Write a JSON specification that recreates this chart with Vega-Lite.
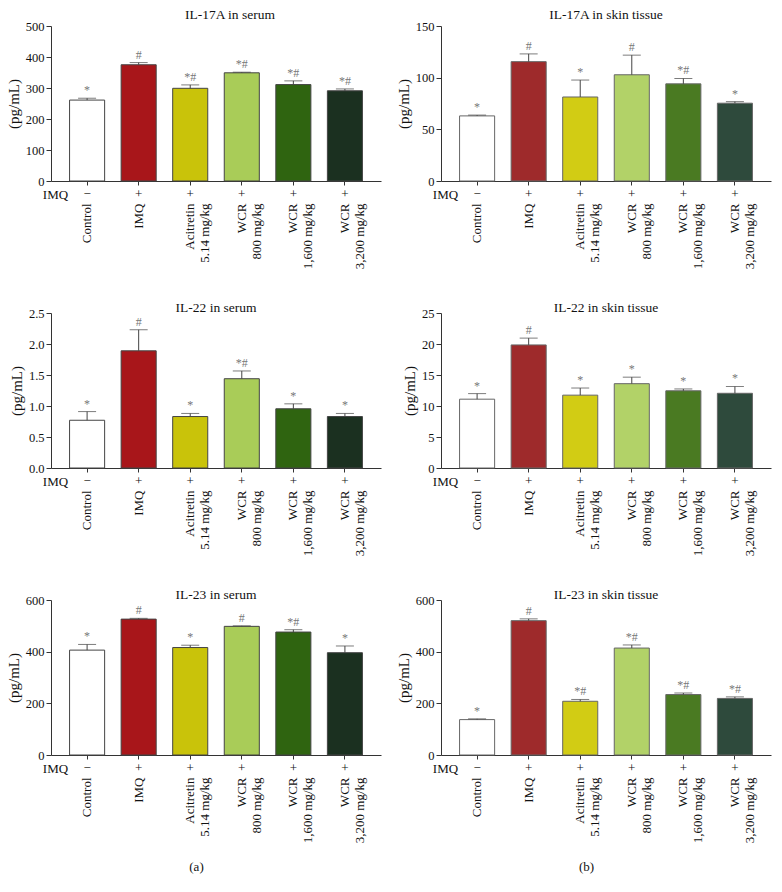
{
  "$schema": "https://vega.github.io/schema/vega-lite/v6.json",
  "padding": {"left": 6, "top": 7, "right": 4, "bottom": 4},
  "background": "white",
  "config": {
    "font": "Liberation Serif",
    "view": {"stroke": null},
    "title": {"font": "Liberation Serif", "fontSize": 13.5, "fontWeight": "normal", "color": "#111", "offset": -7},
    "axis": {"labelFont": "Liberation Serif", "labelFontSize": 13, "labelColor": "#111", "titleFont": "Liberation Serif", "titleFontSize": 15, "titleFontWeight": "normal", "titleColor": "#111", "domainColor": "#333", "tickColor": "#333", "grid": false},
    "axisY": {"tickSize": 5, "labelPadding": 2, "titlePadding": 4, "labelFontSize": 12.5},
    "text": {"font": "Liberation Serif"}
  },
  "datasets": {
    "d": [
      {"panel": "IL-17A in serum", "group": "Control", "value": 261, "hi": 267, "sig": "*"},
      {"panel": "IL-17A in serum", "group": "IMQ", "value": 375, "hi": 382, "sig": "#"},
      {"panel": "IL-17A in serum", "group": "Acitretin|5.14 mg/kg", "value": 299, "hi": 310, "sig": "*#"},
      {"panel": "IL-17A in serum", "group": "WCR|800 mg/kg", "value": 349, "hi": 351, "sig": "*#"},
      {"panel": "IL-17A in serum", "group": "WCR|1,600 mg/kg", "value": 311, "hi": 323, "sig": "*#"},
      {"panel": "IL-17A in serum", "group": "WCR|3,200 mg/kg", "value": 291, "hi": 297, "sig": "*#"},
      {"panel": "IL-17A in skin tissue", "group": "Control", "value": 63, "hi": 63.8, "sig": "*"},
      {"panel": "IL-17A in skin tissue", "group": "IMQ", "value": 115.5, "hi": 123, "sig": "#"},
      {"panel": "IL-17A in skin tissue", "group": "Acitretin|5.14 mg/kg", "value": 81.3, "hi": 97.7, "sig": "*"},
      {"panel": "IL-17A in skin tissue", "group": "WCR|800 mg/kg", "value": 102.8, "hi": 121.8, "sig": "#"},
      {"panel": "IL-17A in skin tissue", "group": "WCR|1,600 mg/kg", "value": 94, "hi": 99.2, "sig": "*#"},
      {"panel": "IL-17A in skin tissue", "group": "WCR|3,200 mg/kg", "value": 75.3, "hi": 76.8, "sig": "*"},
      {"panel": "IL-22 in serum", "group": "Control", "value": 0.77, "hi": 0.91, "sig": "*"},
      {"panel": "IL-22 in serum", "group": "IMQ", "value": 1.89, "hi": 2.23, "sig": "#"},
      {"panel": "IL-22 in serum", "group": "Acitretin|5.14 mg/kg", "value": 0.83, "hi": 0.88, "sig": "*"},
      {"panel": "IL-22 in serum", "group": "WCR|800 mg/kg", "value": 1.44, "hi": 1.565, "sig": "*#"},
      {"panel": "IL-22 in serum", "group": "WCR|1,600 mg/kg", "value": 0.955, "hi": 1.035, "sig": "*"},
      {"panel": "IL-22 in serum", "group": "WCR|3,200 mg/kg", "value": 0.83, "hi": 0.88, "sig": "*"},
      {"panel": "IL-22 in skin tissue", "group": "Control", "value": 11.1, "hi": 12.0, "sig": "*"},
      {"panel": "IL-22 in skin tissue", "group": "IMQ", "value": 19.85, "hi": 20.95, "sig": "#"},
      {"panel": "IL-22 in skin tissue", "group": "Acitretin|5.14 mg/kg", "value": 11.75, "hi": 12.9, "sig": "*"},
      {"panel": "IL-22 in skin tissue", "group": "WCR|800 mg/kg", "value": 13.6, "hi": 14.65, "sig": "*"},
      {"panel": "IL-22 in skin tissue", "group": "WCR|1,600 mg/kg", "value": 12.45, "hi": 12.75, "sig": "*"},
      {"panel": "IL-22 in skin tissue", "group": "WCR|3,200 mg/kg", "value": 12.05, "hi": 13.15, "sig": "*"},
      {"panel": "IL-23 in serum", "group": "Control", "value": 406, "hi": 428, "sig": "*"},
      {"panel": "IL-23 in serum", "group": "IMQ", "value": 526, "hi": 529, "sig": "#"},
      {"panel": "IL-23 in serum", "group": "Acitretin|5.14 mg/kg", "value": 416, "hi": 425, "sig": "*"},
      {"panel": "IL-23 in serum", "group": "WCR|800 mg/kg", "value": 498, "hi": 500, "sig": "#"},
      {"panel": "IL-23 in serum", "group": "WCR|1,600 mg/kg", "value": 476, "hi": 485, "sig": "*#"},
      {"panel": "IL-23 in serum", "group": "WCR|3,200 mg/kg", "value": 396, "hi": 422, "sig": "*"},
      {"panel": "IL-23 in skin tissue", "group": "Control", "value": 137, "hi": 140, "sig": "*"},
      {"panel": "IL-23 in skin tissue", "group": "IMQ", "value": 520, "hi": 527, "sig": "#"},
      {"panel": "IL-23 in skin tissue", "group": "Acitretin|5.14 mg/kg", "value": 208, "hi": 215, "sig": "*#"},
      {"panel": "IL-23 in skin tissue", "group": "WCR|800 mg/kg", "value": 414, "hi": 426, "sig": "*#"},
      {"panel": "IL-23 in skin tissue", "group": "WCR|1,600 mg/kg", "value": 234, "hi": 240, "sig": "*#"},
      {"panel": "IL-23 in skin tissue", "group": "WCR|3,200 mg/kg", "value": 219, "hi": 225, "sig": "*#"}
    ]
  },
  "data": {"name": "d"},
  "columns": 2,
  "spacing": {"column": 15, "row": 31},
  "resolve": {"scale": {"x": "independent", "y": "independent", "color": "independent"}},
  "concat": [
    {
      "width": 330, "height": 155,
      "title": {"text": "IL-17A in serum", "dx": 14, "offset": -1},
      "transform": [{"filter": "datum.panel == 'IL-17A in serum'"}],
      "layer": [
        {"mark": {"type": "bar", "stroke": "#444", "strokeWidth": 1},
         "encoding": {
           "x": {"field": "group", "type": "nominal", "sort": ["Control","IMQ","Acitretin|5.14 mg/kg","WCR|800 mg/kg","WCR|1,600 mg/kg","WCR|3,200 mg/kg"], "scale": {"paddingInner": 0.32, "paddingOuter": 0.36}, "axis": {"orient": "bottom", "title": "IMQ", "labelExpr": "datum.label == 'Control' ? '−' : '+'", "labelAngle": 0, "labelAlign": "center", "labelBaseline": "top", "tickSize": 4, "labelPadding": 2, "labelOverlap": false, "titleX": 4, "titleY": 13, "titleAlign": "center", "titleBaseline": "middle", "titleFontSize": 13}},
           "y": {"field": "value", "type": "quantitative", "scale": {"domain": [0, 500]}, "axis": {"title": "(pg/mL)", "values": [0,100,200,300,400,500]}},
           "color": {"field": "group", "type": "nominal", "scale": {"domain": ["Control","IMQ","Acitretin|5.14 mg/kg","WCR|800 mg/kg","WCR|1,600 mg/kg","WCR|3,200 mg/kg"], "range": ["#ffffff","#a8161a","#c9c30a","#a9cc58","#2f6410","#1b3020"]}, "legend": null}
         }},
        {"mark": {"type": "rule", "color": "#444", "strokeWidth": 1},
         "encoding": {
           "x": {"field": "group", "type": "nominal", "sort": ["Control","IMQ","Acitretin|5.14 mg/kg","WCR|800 mg/kg","WCR|1,600 mg/kg","WCR|3,200 mg/kg"], "scale": {"paddingInner": 0.32, "paddingOuter": 0.36}, "axis": null},
           "y": {"field": "value", "type": "quantitative", "scale": {"domain": [0, 500]}, "axis": {"title": "(pg/mL)", "values": [0,100,200,300,400,500]}},
           "y2": {"field": "hi"}
         }},
        {"mark": {"type": "tick", "size": 18, "thickness": 1, "color": "#444"},
         "encoding": {
           "x": {"field": "group", "type": "nominal", "sort": ["Control","IMQ","Acitretin|5.14 mg/kg","WCR|800 mg/kg","WCR|1,600 mg/kg","WCR|3,200 mg/kg"], "scale": {"paddingInner": 0.32, "paddingOuter": 0.36}, "axis": null},
           "y": {"field": "hi", "type": "quantitative", "scale": {"domain": [0, 500]}, "axis": {"title": "(pg/mL)", "values": [0,100,200,300,400,500]}}
         }},
        {"mark": {"type": "text", "baseline": "bottom", "dy": -1, "color": "#777", "fontSize": 12},
         "encoding": {
           "x": {"field": "group", "type": "nominal", "sort": ["Control","IMQ","Acitretin|5.14 mg/kg","WCR|800 mg/kg","WCR|1,600 mg/kg","WCR|3,200 mg/kg"], "scale": {"paddingInner": 0.32, "paddingOuter": 0.36}, "axis": {"orient": "bottom", "title": null, "domain": false, "ticks": false, "labelAngle": 270, "labelAlign": "right", "labelBaseline": "middle", "labelPadding": 22, "labelOverlap": false, "labelLineHeight": 15, "labelExpr": "split(replace(datum.label, 'WCR|', 'WCR       |'), '|')"}},
           "y": {"field": "hi", "type": "quantitative", "scale": {"domain": [0, 500]}, "axis": {"title": "(pg/mL)", "values": [0,100,200,300,400,500]}},
           "text": {"field": "sig"}
         }}
      ],
      "resolve": {"axis": {"x": "independent"}}
    },
    {
      "width": 330, "height": 155,
      "title": {"text": "IL-17A in skin tissue", "offset": -1},
      "transform": [{"filter": "datum.panel == 'IL-17A in skin tissue'"}],
      "layer": [
        {"mark": {"type": "bar", "stroke": "#666", "strokeWidth": 1},
         "encoding": {
           "x": {"field": "group", "type": "nominal", "sort": ["Control","IMQ","Acitretin|5.14 mg/kg","WCR|800 mg/kg","WCR|1,600 mg/kg","WCR|3,200 mg/kg"], "scale": {"paddingInner": 0.32, "paddingOuter": 0.36}, "axis": {"orient": "bottom", "title": "IMQ", "labelExpr": "datum.label == 'Control' ? '−' : '+'", "labelAngle": 0, "labelAlign": "center", "labelBaseline": "top", "tickSize": 4, "labelPadding": 2, "labelOverlap": false, "titleX": 4, "titleY": 13, "titleAlign": "center", "titleBaseline": "middle", "titleFontSize": 13}},
           "y": {"field": "value", "type": "quantitative", "scale": {"domain": [0, 150]}, "axis": {"title": "(pg/mL)", "values": [0,50,100,150]}},
           "color": {"field": "group", "type": "nominal", "scale": {"domain": ["Control","IMQ","Acitretin|5.14 mg/kg","WCR|800 mg/kg","WCR|1,600 mg/kg","WCR|3,200 mg/kg"], "range": ["#ffffff","#9e2a2b","#d2cc14","#b2d268","#4a7a22","#2e4a3c"]}, "legend": null}
         }},
        {"mark": {"type": "rule", "color": "#444", "strokeWidth": 1},
         "encoding": {
           "x": {"field": "group", "type": "nominal", "sort": ["Control","IMQ","Acitretin|5.14 mg/kg","WCR|800 mg/kg","WCR|1,600 mg/kg","WCR|3,200 mg/kg"], "scale": {"paddingInner": 0.32, "paddingOuter": 0.36}, "axis": null},
           "y": {"field": "value", "type": "quantitative", "scale": {"domain": [0, 150]}, "axis": {"title": "(pg/mL)", "values": [0,50,100,150]}},
           "y2": {"field": "hi"}
         }},
        {"mark": {"type": "tick", "size": 18, "thickness": 1, "color": "#444"},
         "encoding": {
           "x": {"field": "group", "type": "nominal", "sort": ["Control","IMQ","Acitretin|5.14 mg/kg","WCR|800 mg/kg","WCR|1,600 mg/kg","WCR|3,200 mg/kg"], "scale": {"paddingInner": 0.32, "paddingOuter": 0.36}, "axis": null},
           "y": {"field": "hi", "type": "quantitative", "scale": {"domain": [0, 150]}, "axis": {"title": "(pg/mL)", "values": [0,50,100,150]}}
         }},
        {"mark": {"type": "text", "baseline": "bottom", "dy": -1, "color": "#777", "fontSize": 12},
         "encoding": {
           "x": {"field": "group", "type": "nominal", "sort": ["Control","IMQ","Acitretin|5.14 mg/kg","WCR|800 mg/kg","WCR|1,600 mg/kg","WCR|3,200 mg/kg"], "scale": {"paddingInner": 0.32, "paddingOuter": 0.36}, "axis": {"orient": "bottom", "title": null, "domain": false, "ticks": false, "labelAngle": 270, "labelAlign": "right", "labelBaseline": "middle", "labelPadding": 22, "labelOverlap": false, "labelLineHeight": 15, "labelExpr": "split(replace(datum.label, 'WCR|', 'WCR       |'), '|')"}},
           "y": {"field": "hi", "type": "quantitative", "scale": {"domain": [0, 150]}, "axis": {"title": "(pg/mL)", "values": [0,50,100,150]}},
           "text": {"field": "sig"}
         }}
      ],
      "resolve": {"axis": {"x": "independent"}}
    },
    {
      "width": 330, "height": 155,
      "title": {"text": "IL-22 in serum"},
      "transform": [{"filter": "datum.panel == 'IL-22 in serum'"}],
      "layer": [
        {"mark": {"type": "bar", "stroke": "#444", "strokeWidth": 1},
         "encoding": {
           "x": {"field": "group", "type": "nominal", "sort": ["Control","IMQ","Acitretin|5.14 mg/kg","WCR|800 mg/kg","WCR|1,600 mg/kg","WCR|3,200 mg/kg"], "scale": {"paddingInner": 0.32, "paddingOuter": 0.36}, "axis": {"orient": "bottom", "title": "IMQ", "labelExpr": "datum.label == 'Control' ? '−' : '+'", "labelAngle": 0, "labelAlign": "center", "labelBaseline": "top", "tickSize": 4, "labelPadding": 2, "labelOverlap": false, "titleX": 4, "titleY": 13, "titleAlign": "center", "titleBaseline": "middle", "titleFontSize": 13}},
           "y": {"field": "value", "type": "quantitative", "scale": {"domain": [0, 2.5]}, "axis": {"title": "(pg/mL)", "values": [0,0.5,1,1.5,2,2.5], "format": ".1f"}},
           "color": {"field": "group", "type": "nominal", "scale": {"domain": ["Control","IMQ","Acitretin|5.14 mg/kg","WCR|800 mg/kg","WCR|1,600 mg/kg","WCR|3,200 mg/kg"], "range": ["#ffffff","#a8161a","#c9c30a","#a9cc58","#2f6410","#1b3020"]}, "legend": null}
         }},
        {"mark": {"type": "rule", "color": "#444", "strokeWidth": 1},
         "encoding": {
           "x": {"field": "group", "type": "nominal", "sort": ["Control","IMQ","Acitretin|5.14 mg/kg","WCR|800 mg/kg","WCR|1,600 mg/kg","WCR|3,200 mg/kg"], "scale": {"paddingInner": 0.32, "paddingOuter": 0.36}, "axis": null},
           "y": {"field": "value", "type": "quantitative", "scale": {"domain": [0, 2.5]}, "axis": {"title": "(pg/mL)", "values": [0,0.5,1,1.5,2,2.5], "format": ".1f"}},
           "y2": {"field": "hi"}
         }},
        {"mark": {"type": "tick", "size": 18, "thickness": 1, "color": "#444"},
         "encoding": {
           "x": {"field": "group", "type": "nominal", "sort": ["Control","IMQ","Acitretin|5.14 mg/kg","WCR|800 mg/kg","WCR|1,600 mg/kg","WCR|3,200 mg/kg"], "scale": {"paddingInner": 0.32, "paddingOuter": 0.36}, "axis": null},
           "y": {"field": "hi", "type": "quantitative", "scale": {"domain": [0, 2.5]}, "axis": {"title": "(pg/mL)", "values": [0,0.5,1,1.5,2,2.5], "format": ".1f"}}
         }},
        {"mark": {"type": "text", "baseline": "bottom", "dy": -1, "color": "#777", "fontSize": 12},
         "encoding": {
           "x": {"field": "group", "type": "nominal", "sort": ["Control","IMQ","Acitretin|5.14 mg/kg","WCR|800 mg/kg","WCR|1,600 mg/kg","WCR|3,200 mg/kg"], "scale": {"paddingInner": 0.32, "paddingOuter": 0.36}, "axis": {"orient": "bottom", "title": null, "domain": false, "ticks": false, "labelAngle": 270, "labelAlign": "right", "labelBaseline": "middle", "labelPadding": 22, "labelOverlap": false, "labelLineHeight": 15, "labelExpr": "split(replace(datum.label, 'WCR|', 'WCR       |'), '|')"}},
           "y": {"field": "hi", "type": "quantitative", "scale": {"domain": [0, 2.5]}, "axis": {"title": "(pg/mL)", "values": [0,0.5,1,1.5,2,2.5], "format": ".1f"}},
           "text": {"field": "sig"}
         }}
      ],
      "resolve": {"axis": {"x": "independent"}}
    },
    {
      "width": 330, "height": 155,
      "title": {"text": "IL-22 in skin tissue"},
      "transform": [{"filter": "datum.panel == 'IL-22 in skin tissue'"}],
      "layer": [
        {"mark": {"type": "bar", "stroke": "#666", "strokeWidth": 1},
         "encoding": {
           "x": {"field": "group", "type": "nominal", "sort": ["Control","IMQ","Acitretin|5.14 mg/kg","WCR|800 mg/kg","WCR|1,600 mg/kg","WCR|3,200 mg/kg"], "scale": {"paddingInner": 0.32, "paddingOuter": 0.36}, "axis": {"orient": "bottom", "title": "IMQ", "labelExpr": "datum.label == 'Control' ? '−' : '+'", "labelAngle": 0, "labelAlign": "center", "labelBaseline": "top", "tickSize": 4, "labelPadding": 2, "labelOverlap": false, "titleX": 4, "titleY": 13, "titleAlign": "center", "titleBaseline": "middle", "titleFontSize": 13}},
           "y": {"field": "value", "type": "quantitative", "scale": {"domain": [0, 25]}, "axis": {"title": "(pg/mL)", "values": [0,5,10,15,20,25]}},
           "color": {"field": "group", "type": "nominal", "scale": {"domain": ["Control","IMQ","Acitretin|5.14 mg/kg","WCR|800 mg/kg","WCR|1,600 mg/kg","WCR|3,200 mg/kg"], "range": ["#ffffff","#9e2a2b","#d2cc14","#b2d268","#4a7a22","#2e4a3c"]}, "legend": null}
         }},
        {"mark": {"type": "rule", "color": "#444", "strokeWidth": 1},
         "encoding": {
           "x": {"field": "group", "type": "nominal", "sort": ["Control","IMQ","Acitretin|5.14 mg/kg","WCR|800 mg/kg","WCR|1,600 mg/kg","WCR|3,200 mg/kg"], "scale": {"paddingInner": 0.32, "paddingOuter": 0.36}, "axis": null},
           "y": {"field": "value", "type": "quantitative", "scale": {"domain": [0, 25]}, "axis": {"title": "(pg/mL)", "values": [0,5,10,15,20,25]}},
           "y2": {"field": "hi"}
         }},
        {"mark": {"type": "tick", "size": 18, "thickness": 1, "color": "#444"},
         "encoding": {
           "x": {"field": "group", "type": "nominal", "sort": ["Control","IMQ","Acitretin|5.14 mg/kg","WCR|800 mg/kg","WCR|1,600 mg/kg","WCR|3,200 mg/kg"], "scale": {"paddingInner": 0.32, "paddingOuter": 0.36}, "axis": null},
           "y": {"field": "hi", "type": "quantitative", "scale": {"domain": [0, 25]}, "axis": {"title": "(pg/mL)", "values": [0,5,10,15,20,25]}}
         }},
        {"mark": {"type": "text", "baseline": "bottom", "dy": -1, "color": "#777", "fontSize": 12},
         "encoding": {
           "x": {"field": "group", "type": "nominal", "sort": ["Control","IMQ","Acitretin|5.14 mg/kg","WCR|800 mg/kg","WCR|1,600 mg/kg","WCR|3,200 mg/kg"], "scale": {"paddingInner": 0.32, "paddingOuter": 0.36}, "axis": {"orient": "bottom", "title": null, "domain": false, "ticks": false, "labelAngle": 270, "labelAlign": "right", "labelBaseline": "middle", "labelPadding": 22, "labelOverlap": false, "labelLineHeight": 15, "labelExpr": "split(replace(datum.label, 'WCR|', 'WCR       |'), '|')"}},
           "y": {"field": "hi", "type": "quantitative", "scale": {"domain": [0, 25]}, "axis": {"title": "(pg/mL)", "values": [0,5,10,15,20,25]}},
           "text": {"field": "sig"}
         }}
      ],
      "resolve": {"axis": {"x": "independent"}}
    },
    {
      "width": 330, "height": 155,
      "title": {"text": "IL-23 in serum"},
      "transform": [{"filter": "datum.panel == 'IL-23 in serum'"}],
      "layer": [
        {"mark": {"type": "bar", "stroke": "#444", "strokeWidth": 1},
         "encoding": {
           "x": {"field": "group", "type": "nominal", "sort": ["Control","IMQ","Acitretin|5.14 mg/kg","WCR|800 mg/kg","WCR|1,600 mg/kg","WCR|3,200 mg/kg"], "scale": {"paddingInner": 0.32, "paddingOuter": 0.36}, "axis": {"orient": "bottom", "title": "IMQ", "labelExpr": "datum.label == 'Control' ? '−' : '+'", "labelAngle": 0, "labelAlign": "center", "labelBaseline": "top", "tickSize": 4, "labelPadding": 2, "labelOverlap": false, "titleX": 4, "titleY": 13, "titleAlign": "center", "titleBaseline": "middle", "titleFontSize": 13}},
           "y": {"field": "value", "type": "quantitative", "scale": {"domain": [0, 600]}, "axis": {"title": "(pg/mL)", "values": [0,200,400,600]}},
           "color": {"field": "group", "type": "nominal", "scale": {"domain": ["Control","IMQ","Acitretin|5.14 mg/kg","WCR|800 mg/kg","WCR|1,600 mg/kg","WCR|3,200 mg/kg"], "range": ["#ffffff","#a8161a","#c9c30a","#a9cc58","#2f6410","#1b3020"]}, "legend": null}
         }},
        {"mark": {"type": "rule", "color": "#444", "strokeWidth": 1},
         "encoding": {
           "x": {"field": "group", "type": "nominal", "sort": ["Control","IMQ","Acitretin|5.14 mg/kg","WCR|800 mg/kg","WCR|1,600 mg/kg","WCR|3,200 mg/kg"], "scale": {"paddingInner": 0.32, "paddingOuter": 0.36}, "axis": null},
           "y": {"field": "value", "type": "quantitative", "scale": {"domain": [0, 600]}, "axis": {"title": "(pg/mL)", "values": [0,200,400,600]}},
           "y2": {"field": "hi"}
         }},
        {"mark": {"type": "tick", "size": 18, "thickness": 1, "color": "#444"},
         "encoding": {
           "x": {"field": "group", "type": "nominal", "sort": ["Control","IMQ","Acitretin|5.14 mg/kg","WCR|800 mg/kg","WCR|1,600 mg/kg","WCR|3,200 mg/kg"], "scale": {"paddingInner": 0.32, "paddingOuter": 0.36}, "axis": null},
           "y": {"field": "hi", "type": "quantitative", "scale": {"domain": [0, 600]}, "axis": {"title": "(pg/mL)", "values": [0,200,400,600]}}
         }},
        {"mark": {"type": "text", "baseline": "bottom", "dy": -1, "color": "#777", "fontSize": 12},
         "encoding": {
           "x": {"field": "group", "type": "nominal", "sort": ["Control","IMQ","Acitretin|5.14 mg/kg","WCR|800 mg/kg","WCR|1,600 mg/kg","WCR|3,200 mg/kg"], "scale": {"paddingInner": 0.32, "paddingOuter": 0.36}, "axis": {"orient": "bottom", "title": "(a)", "titleX": 145, "titleY": 111, "titleAlign": "center", "titleBaseline": "middle", "titleFontSize": 13, "domain": false, "ticks": false, "labelAngle": 270, "labelAlign": "right", "labelBaseline": "middle", "labelPadding": 22, "labelOverlap": false, "labelLineHeight": 15, "labelExpr": "split(replace(datum.label, 'WCR|', 'WCR       |'), '|')"}},
           "y": {"field": "hi", "type": "quantitative", "scale": {"domain": [0, 600]}, "axis": {"title": "(pg/mL)", "values": [0,200,400,600]}},
           "text": {"field": "sig"}
         }}
      ],
      "resolve": {"axis": {"x": "independent"}}
    },
    {
      "width": 330, "height": 155,
      "title": {"text": "IL-23 in skin tissue"},
      "transform": [{"filter": "datum.panel == 'IL-23 in skin tissue'"}],
      "layer": [
        {"mark": {"type": "bar", "stroke": "#666", "strokeWidth": 1},
         "encoding": {
           "x": {"field": "group", "type": "nominal", "sort": ["Control","IMQ","Acitretin|5.14 mg/kg","WCR|800 mg/kg","WCR|1,600 mg/kg","WCR|3,200 mg/kg"], "scale": {"paddingInner": 0.32, "paddingOuter": 0.36}, "axis": {"orient": "bottom", "title": "IMQ", "labelExpr": "datum.label == 'Control' ? '−' : '+'", "labelAngle": 0, "labelAlign": "center", "labelBaseline": "top", "tickSize": 4, "labelPadding": 2, "labelOverlap": false, "titleX": 4, "titleY": 13, "titleAlign": "center", "titleBaseline": "middle", "titleFontSize": 13}},
           "y": {"field": "value", "type": "quantitative", "scale": {"domain": [0, 600]}, "axis": {"title": "(pg/mL)", "values": [0,200,400,600]}},
           "color": {"field": "group", "type": "nominal", "scale": {"domain": ["Control","IMQ","Acitretin|5.14 mg/kg","WCR|800 mg/kg","WCR|1,600 mg/kg","WCR|3,200 mg/kg"], "range": ["#ffffff","#9e2a2b","#d2cc14","#b2d268","#4a7a22","#2e4a3c"]}, "legend": null}
         }},
        {"mark": {"type": "rule", "color": "#444", "strokeWidth": 1},
         "encoding": {
           "x": {"field": "group", "type": "nominal", "sort": ["Control","IMQ","Acitretin|5.14 mg/kg","WCR|800 mg/kg","WCR|1,600 mg/kg","WCR|3,200 mg/kg"], "scale": {"paddingInner": 0.32, "paddingOuter": 0.36}, "axis": null},
           "y": {"field": "value", "type": "quantitative", "scale": {"domain": [0, 600]}, "axis": {"title": "(pg/mL)", "values": [0,200,400,600]}},
           "y2": {"field": "hi"}
         }},
        {"mark": {"type": "tick", "size": 18, "thickness": 1, "color": "#444"},
         "encoding": {
           "x": {"field": "group", "type": "nominal", "sort": ["Control","IMQ","Acitretin|5.14 mg/kg","WCR|800 mg/kg","WCR|1,600 mg/kg","WCR|3,200 mg/kg"], "scale": {"paddingInner": 0.32, "paddingOuter": 0.36}, "axis": null},
           "y": {"field": "hi", "type": "quantitative", "scale": {"domain": [0, 600]}, "axis": {"title": "(pg/mL)", "values": [0,200,400,600]}}
         }},
        {"mark": {"type": "text", "baseline": "bottom", "dy": -1, "color": "#777", "fontSize": 12},
         "encoding": {
           "x": {"field": "group", "type": "nominal", "sort": ["Control","IMQ","Acitretin|5.14 mg/kg","WCR|800 mg/kg","WCR|1,600 mg/kg","WCR|3,200 mg/kg"], "scale": {"paddingInner": 0.32, "paddingOuter": 0.36}, "axis": {"orient": "bottom", "title": "(b)", "titleX": 145, "titleY": 111, "titleAlign": "center", "titleBaseline": "middle", "titleFontSize": 13, "domain": false, "ticks": false, "labelAngle": 270, "labelAlign": "right", "labelBaseline": "middle", "labelPadding": 22, "labelOverlap": false, "labelLineHeight": 15, "labelExpr": "split(replace(datum.label, 'WCR|', 'WCR       |'), '|')"}},
           "y": {"field": "hi", "type": "quantitative", "scale": {"domain": [0, 600]}, "axis": {"title": "(pg/mL)", "values": [0,200,400,600]}},
           "text": {"field": "sig"}
         }}
      ],
      "resolve": {"axis": {"x": "independent"}}
    }
  ]
}
